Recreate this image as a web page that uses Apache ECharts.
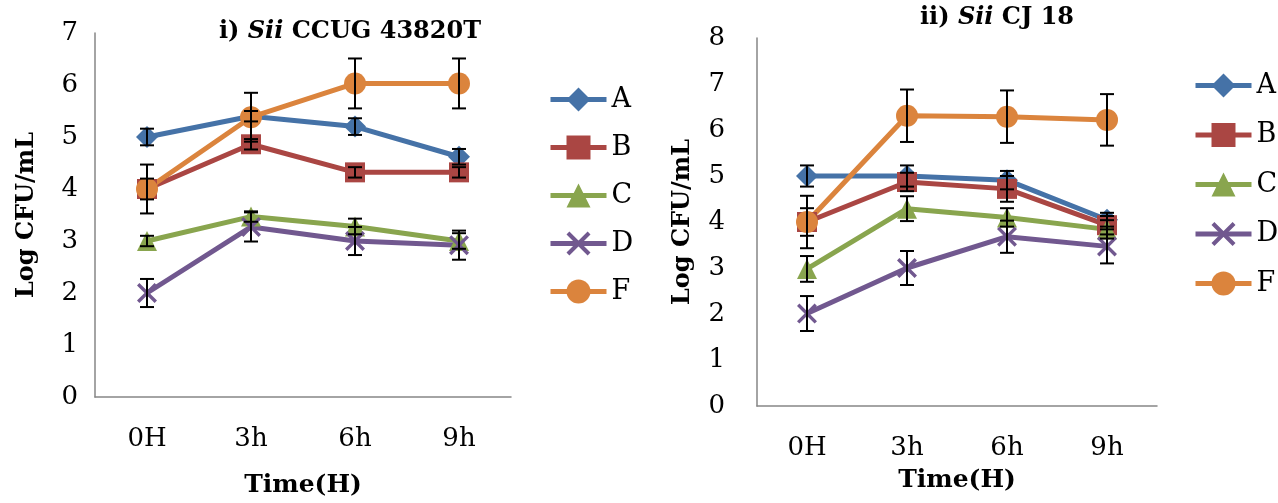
<!DOCTYPE html>
<html><head><meta charset="utf-8">
<script src="https://cdn.jsdelivr.net/npm/echarts@6/dist/echarts.min.js"></script>
<style>html,body{margin:0;padding:0;background:#fff}#c{width:1278px;height:503px}</style>
</head><body><div id="c"></div>
<script>
const categories = ['0H', '3h', '6h', '9h'];
const seriesNames = ['A', 'B', 'C', 'D', 'F'];

// Left chart: i) Sii CCUG 43820T
const leftA = [5.0, 5.4, 5.2, 4.62];
const leftB = [4.0, 4.86, 4.32, 4.32];
const leftC = [3.0, 3.47, 3.28, 3.0];
const leftD = [2.0, 3.27, 3.0, 2.92];
const leftF = [4.0, 5.38, 6.03, 6.03];
const leftErrA = [0.16, 0.1, 0.16, 0.15];
const leftErrB = [0.2, 0.1, 0.1, 0.1];
const leftErrC = [0.1, 0.1, 0.15, 0.15];
const leftErrD = [0.27, 0.28, 0.27, 0.28];
const leftErrF = [0.47, 0.47, 0.48, 0.48];

// Right chart: ii) Sii CJ 18
const rightA = [5.0, 5.0, 4.91, 4.05];
const rightB = [4.0, 4.87, 4.72, 3.93];
const rightC = [2.98, 4.29, 4.1, 3.84];
const rightD = [2.01, 3.0, 3.68, 3.47];
const rightF = [4.0, 6.31, 6.29, 6.22];
const rightErrA = [0.23, 0.23, 0.2, 0.15];
const rightErrB = [0.57, 0.2, 0.28, 0.2];
const rightErrC = [0.28, 0.27, 0.2, 0.2];
const rightErrD = [0.38, 0.37, 0.35, 0.37];
const rightErrF = [0.3, 0.57, 0.57, 0.56];

const colors = {A:'#4572A7', B:'#AA4643', C:'#89A54E', D:'#71588F', F:'#DB843D'};
const xPath = 'path://M0,1.2 L1.2,0 L10,8.8 L8.8,10 Z M8.8,0 L10,1.2 L1.2,10 L0,8.8 Z';
const symbols = {A:['diamond',22], B:['rect',20], C:['triangle',20], D:[xPath,20], F:['circle',22]};

const FONT = 'DejaVu Serif';
const leftVals = {A:leftA,B:leftB,C:leftC,D:leftD,F:leftF};
const leftErrs = {A:leftErrA,B:leftErrB,C:leftErrC,D:leftErrD,F:leftErrF};
const rightVals = {A:rightA,B:rightB,C:rightC,D:rightD,F:rightF};
const rightErrs = {A:rightErrA,B:rightErrB,C:rightErrC,D:rightErrD,F:rightErrF};

function lineSeries(name, data, idx) {
  return {
    name, type:'line', data, xAxisIndex: idx, yAxisIndex: idx,
    symbol: symbols[name][0], symbolSize: symbols[name][1],
    lineStyle:{color:colors[name], width:5},
    itemStyle:{color:colors[name]},
    z: 2, animation:false
  };
}
function errSeries(vals, errs, idx) {
  const data = [];
  seriesNames.forEach(n => {
    vals[n].forEach((v, i) => data.push([i, v - errs[n][i], v + errs[n][i]]));
  });
  return {
    type:'custom', xAxisIndex: idx, yAxisIndex: idx, data, z: 5, silent:true, animation:false,
    renderItem(params, api) {
      const lo = api.coord([api.value(0), api.value(1)]);
      const hi = api.coord([api.value(0), api.value(2)]);
      const w = 7;
      const st = {stroke:'#000', lineWidth:2};
      return {type:'group', children:[
        {type:'line', shape:{x1:lo[0], y1:lo[1], x2:hi[0], y2:hi[1]}, style:st},
        {type:'line', shape:{x1:lo[0]-w, y1:lo[1], x2:lo[0]+w, y2:lo[1]}, style:st},
        {type:'line', shape:{x1:hi[0]-w, y1:hi[1], x2:hi[0]+w, y2:hi[1]}, style:st}
      ]};
    }
  };
}

const axisLine = {show:true, lineStyle:{color:'#868686', width:1.5}};
function xAx(idx, gap) {
  return {type:'category', gridIndex: idx, data: categories, boundaryGap:true,
    axisLine, axisTick:{show:false},
    axisLabel:{fontFamily:FONT, fontSize:26, color:'#000', margin:29},
    name:'Time(H)', nameLocation:'middle', nameGap: gap,
    nameTextStyle:{fontFamily:FONT, fontSize:25, fontWeight:'bold', color:'#000'}};
}
function yAx(idx, max, margin, gap) {
  return {type:'value', gridIndex: idx, min:0, max, interval:1,
    axisLine, axisTick:{show:false}, splitLine:{show:false},
    axisLabel:{fontFamily:FONT, fontSize:26, color:'#000', margin},
    name:'Log CFU/mL', nameLocation:'middle', nameGap: gap, nameRotate:90,
    nameTextStyle:{fontFamily:FONT, fontSize:24, fontWeight:'bold', color:'#000'}};
}
const legendBase = {orient:'vertical', data: seriesNames, itemWidth:56, itemHeight:30,
  lineStyle:{width:5}, textStyle:{fontFamily:FONT, fontSize:27, color:'#000'}};

const titleRich = {
  b:{fontFamily:FONT, fontSize:24, fontWeight:'bold', color:'#000'},
  i:{fontFamily:FONT, fontSize:24, fontWeight:'bold', fontStyle:'italic', color:'#000'}
};

const option = {
  animation:false,
  title:[
    {text:'{b|i) }{i|Sii}{b| CCUG 43820T}', left:345, top:15, textAlign:'center', textStyle:{rich:titleRich}},
    {text:'{b|ii) }{i|Sii}{b| CJ 18}', left:992, top:1, textAlign:'center', textStyle:{rich:titleRich}}
  ],
  grid:[
    {left:95, top:33, width:416, height:365},
    {left:757, top:38, width:400, height:368}
  ],
  xAxis:[xAx(0, 76), xAx(1, 62)],
  yAxis:[yAx(0, 7, 17, 56), yAx(1, 8, 32, 62)],
  legend:[
    Object.assign({}, legendBase, {left:543, top:81, itemGap:21}),
    Object.assign({}, legendBase, {left:1188, top:67, itemGap:22.5})
  ],
  series:[
    ...seriesNames.map(n => lineSeries(n, leftVals[n], 0)),
    errSeries(leftVals, leftErrs, 0),
    ...seriesNames.map(n => lineSeries(n, rightVals[n], 1)),
    errSeries(rightVals, rightErrs, 1)
  ]
};
const chart = echarts.init(document.getElementById('c'));
chart.setOption(option);
</script></body></html>
